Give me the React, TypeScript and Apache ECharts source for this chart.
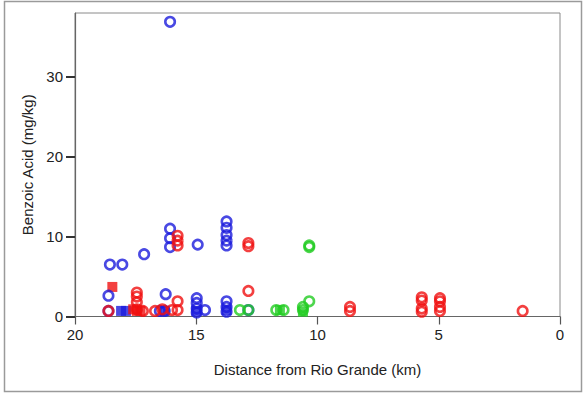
import React, { useEffect, useRef } from "react";
import * as echarts from "echarts";

// [distance km, benzoic acid mg/kg]
const blueCircles: number[][] = [
  [16.08, 36.9],
  [18.56, 6.5], [18.05, 6.5], [17.15, 7.8],
  [16.08, 11.0], [16.08, 9.8], [16.08, 8.7],
  [14.94, 9.0],
  [13.75, 11.9], [13.75, 11.1], [13.75, 10.2], [13.75, 9.5], [13.75, 8.9],
  [18.62, 2.6], [18.62, 0.7],
  [16.26, 2.8], [16.3, 0.7], [16.5, 0.7],
  [14.98, 2.3], [14.98, 1.7], [14.98, 1.0], [14.98, 0.5], [14.64, 0.8],
  [13.75, 1.9], [13.75, 1.2], [13.75, 0.6],
  [12.85, 0.8],
];
const blueSquares: number[][] = [
  [18.1, 0.7], [17.9, 0.7], [16.3, 0.7], [15.0, 0.7], [13.75, 0.8],
];
const redCircles: number[][] = [
  [15.77, 10.1], [15.77, 9.5], [15.77, 8.9],
  [12.85, 9.2], [12.85, 8.8],
  [12.85, 3.2],
  [17.45, 3.0], [17.45, 2.5], [17.45, 1.8], [17.45, 0.9],
  [18.62, 0.7], [17.2, 0.7], [16.7, 0.7], [16.4, 0.9],
  [15.77, 1.9], [15.77, 0.8], [16.0, 0.8],
  [8.66, 1.2], [8.66, 0.7],
  [5.70, 2.4], [5.70, 2.0], [5.70, 1.0], [5.70, 0.6],
  [4.95, 2.3], [4.95, 1.9], [4.95, 1.2], [4.95, 0.7],
  [1.54, 0.7],
];
const redSquares: number[][] = [
  [18.46, 3.7], [17.45, 0.7], [17.3, 0.7], [17.6, 0.9],
];
const greenCircles: number[][] = [
  [13.2, 0.8], [12.85, 0.8], [11.7, 0.8], [11.4, 0.8],
  [10.6, 0.8], [10.6, 1.2], [10.34, 1.9], [10.34, 8.9], [10.34, 8.7],
];
const greenSquares: number[][] = [
  [11.55, 0.8], [10.6, 0.6],
];
const xTicks = [0, 5, 10, 15, 20];
const yTicks = [0, 10, 20, 30];

const BLUE = "#1c1cdc";
const RED = "#f01010";
const GREEN = "#22cc22";

const circleSeries = (data: number[][], color: string) => ({
  type: "scatter",
  data,
  symbol: "circle",
  symbolSize: 9.5,
  itemStyle: { color: "rgba(0,0,0,0)", borderColor: color, borderWidth: 2.6 },
});
const squareSeries = (data: number[][], color: string) => ({
  type: "scatter",
  data,
  symbol: "rect",
  symbolSize: 10,
  itemStyle: { color },
});

export default function App() {
  const ref = useRef<HTMLDivElement>(null);
  useEffect(() => {
    if (!ref.current) return;
    const chart = echarts.init(ref.current, null, { renderer: "svg" });
    const font = "'Liberation Sans', Arial, sans-serif";
    chart.setOption({
      animation: false,
      backgroundColor: "#fff",
      textStyle: { fontFamily: font },
      grid: {
        left: 75, right: 26, top: 13, bottom: 79.5,
        show: true, borderColor: "#8a8a8a", borderWidth: 1,
      },
      graphic: [
        {
          type: "rect",
          shape: { x: 4.5, y: 1.5, width: 577, height: 390 },
          style: { fill: "none", stroke: "#9a9a9a", lineWidth: 1.5 },
          silent: true,
        },
      ],
      xAxis: {
        type: "value",
        inverse: true,
        min: 0,
        max: 20,
        interval: 5,
        name: "Distance from Rio Grande (km)",
        nameLocation: "middle",
        nameGap: 45,
        nameTextStyle: { fontSize: 15, color: "#222", fontFamily: font },
        axisLine: { onZero: false, lineStyle: { color: "#666", width: 1.2 } },
        axisTick: { show: true, length: 8, lineStyle: { color: "#555", width: 1.2 }, customValues: xTicks },
        axisLabel: { fontSize: 15, color: "#222", margin: 10, fontFamily: font, customValues: xTicks },
        splitLine: { show: false },
      },
      yAxis: {
        type: "value",
        min: 0,
        max: 38,
        interval: 10,
        position: "left",
        name: "Benzoic Acid (mg/kg)",
        nameLocation: "middle",
        nameGap: 40,
        nameTextStyle: { fontSize: 15, color: "#222", fontFamily: font },
        axisLine: { show: true, onZero: false, lineStyle: { color: "#666", width: 1.2 } },
        axisTick: { show: true, length: 9, lineStyle: { color: "#333", width: 2 }, customValues: yTicks },
        axisLabel: { fontSize: 15, color: "#222", margin: 12, fontFamily: font, customValues: yTicks },
        splitLine: { show: false },
      },
      series: [
        squareSeries(blueSquares, BLUE),
        squareSeries(redSquares, RED),
        squareSeries(greenSquares, GREEN),
        circleSeries(blueCircles, BLUE),
        circleSeries(redCircles, RED),
        circleSeries(greenCircles, GREEN),
      ],
    });
    return () => chart.dispose();
  }, []);
  return (
    <div
      ref={ref}
      style={{ position: "fixed", left: 0, top: 0, width: 586, height: 396 }}
    />
  );
}
